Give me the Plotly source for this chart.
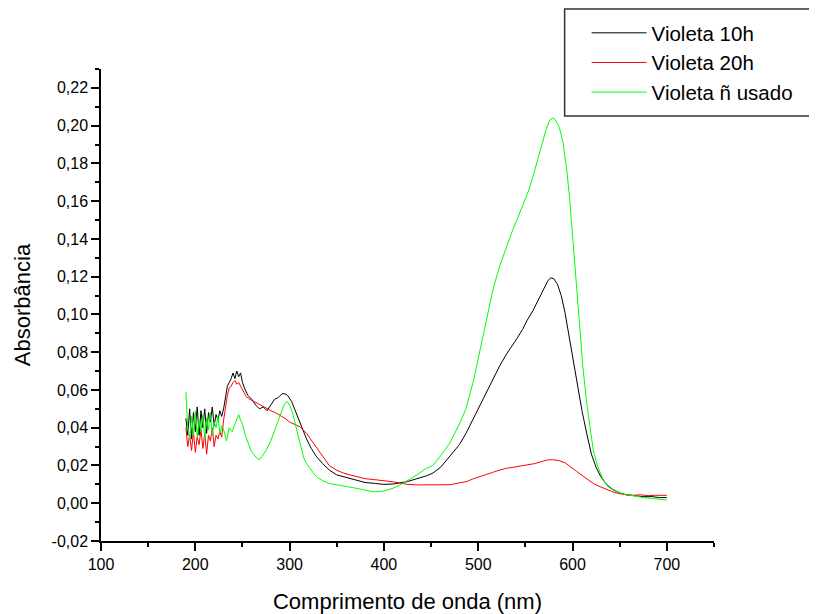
import plotly.graph_objects as go

# ---------------- data ----------------
noise_x = [190, 192, 194, 196, 198, 200, 202, 204, 206, 208, 210, 212, 214, 216, 218, 220, 222, 224, 226, 228]

v10_x = noise_x + [230, 232, 234, 236, 238, 240, 242, 244, 246, 248, 250, 253, 256, 260, 264, 268, 272, 276, 280, 284,
                   288, 292, 295, 298, 302, 306, 310, 314, 318, 323, 328, 335, 342, 350, 358, 365, 372, 380, 390, 400,
                   410, 417, 425, 435, 445, 452, 460, 470, 480, 487, 495, 505, 515, 523, 530, 537, 542, 547, 552, 558,
                   565, 570, 574, 577, 580, 584, 588, 592, 596, 600, 605, 610, 615, 620, 625, 630, 636, 642, 650, 657,
                   665, 675, 685, 692, 700]
v10_y = [0.045, 0.036, 0.050, 0.034, 0.048, 0.038, 0.051, 0.036, 0.049, 0.040, 0.050, 0.037, 0.048, 0.043, 0.051,
         0.041, 0.047, 0.044, 0.049, 0.046,
         0.050, 0.056, 0.062, 0.064, 0.066, 0.069, 0.066, 0.070, 0.067, 0.069, 0.064, 0.060, 0.057, 0.055, 0.052,
         0.050, 0.051, 0.049, 0.052, 0.055, 0.056, 0.058, 0.058, 0.057, 0.054, 0.049, 0.044, 0.039, 0.034, 0.029,
         0.025, 0.021, 0.0176, 0.015, 0.014, 0.013, 0.012, 0.011, 0.0105, 0.010, 0.0102, 0.0107, 0.0115, 0.013,
         0.0145, 0.016, 0.019, 0.025, 0.031, 0.037, 0.045, 0.055, 0.065, 0.073, 0.079, 0.084, 0.088, 0.092, 0.097,
         0.102, 0.109, 0.114, 0.118, 0.1194, 0.119, 0.116, 0.110, 0.101, 0.089, 0.077, 0.062, 0.049, 0.037, 0.026,
         0.019, 0.014, 0.010, 0.0075, 0.0055, 0.0044, 0.004, 0.0035, 0.0035, 0.003, 0.003]

v20_x = noise_x + [230, 232, 234, 236, 238, 240, 242, 244, 246, 248, 250, 254, 258, 262, 266, 270, 275, 280, 285, 290,
                   295, 300, 305, 311, 318, 325, 330, 335, 342, 350, 357, 364, 372, 380, 390, 400, 410, 417, 425, 435,
                   445, 455, 465, 470, 480, 488, 495, 505, 515, 523, 530, 540, 551, 560, 568, 574, 580, 586, 592, 598,
                   604, 610, 616, 622, 628, 635, 643, 650, 657, 665, 672, 680, 688, 695, 700]
v20_y = [0.040, 0.030, 0.036, 0.028, 0.038, 0.027, 0.035, 0.031, 0.039, 0.029, 0.037, 0.026, 0.036, 0.033, 0.040,
         0.030, 0.036, 0.034, 0.038, 0.035,
         0.044, 0.052, 0.057, 0.061, 0.062, 0.064, 0.065, 0.063, 0.064, 0.062, 0.060, 0.0565, 0.055, 0.054, 0.053,
         0.052, 0.0505, 0.049, 0.048, 0.0465, 0.045, 0.043, 0.042, 0.0405, 0.037, 0.032, 0.028, 0.025, 0.020,
         0.0175, 0.016, 0.015, 0.014, 0.013, 0.0125, 0.012, 0.0113, 0.0107, 0.010, 0.0097, 0.0097, 0.0097, 0.0097,
         0.0098, 0.0108, 0.0115, 0.013, 0.0148, 0.0163, 0.0176, 0.0185, 0.0193, 0.0203, 0.021, 0.0222, 0.023,
         0.023, 0.0225, 0.0215, 0.019, 0.017, 0.0148, 0.0125, 0.0105, 0.009, 0.0075, 0.006, 0.005, 0.0045, 0.0042,
         0.0045, 0.004, 0.0042, 0.004, 0.0042]

vn_x = noise_x + [230, 233, 236, 239, 242, 244, 246, 248, 250, 253, 256, 259, 262, 265, 268, 271, 275, 280, 285, 290,
                  294, 297, 300, 303, 306, 309, 312, 315, 318, 322, 326, 330, 335, 342, 350, 360, 370, 380, 390, 400,
                  410, 417, 425, 435, 445, 452, 460, 470, 480, 487, 495, 503, 510, 516, 523, 530, 536, 541, 547, 553,
                  558, 563, 568, 572, 576, 579, 582, 586, 590, 594, 597, 600, 604, 608, 611, 615, 618, 622, 627, 632,
                  637, 643, 650, 657, 665, 675, 685, 692, 700]
vn_y = [0.059, 0.040, 0.034, 0.046, 0.036, 0.049, 0.035, 0.044, 0.038, 0.047, 0.034, 0.045, 0.039, 0.048, 0.036,
        0.043, 0.040, 0.046, 0.037, 0.041,
        0.039, 0.033, 0.040, 0.038, 0.042, 0.045, 0.047, 0.044, 0.042, 0.036, 0.032, 0.028, 0.026, 0.024, 0.023,
        0.025, 0.028, 0.033, 0.040, 0.047, 0.052, 0.054, 0.052, 0.048, 0.042, 0.035, 0.029, 0.024, 0.021, 0.018,
        0.0155, 0.0135, 0.012, 0.0105, 0.0098, 0.0092, 0.008, 0.007, 0.006, 0.0065, 0.008, 0.0097, 0.012, 0.015,
        0.0185, 0.020, 0.025, 0.032, 0.042, 0.050, 0.065, 0.084, 0.100, 0.114, 0.126, 0.136, 0.144, 0.150, 0.157,
        0.165, 0.173, 0.182, 0.192, 0.198, 0.203, 0.204, 0.203, 0.199, 0.191, 0.176, 0.161, 0.142, 0.117, 0.091,
        0.072, 0.053, 0.041, 0.028, 0.019, 0.013, 0.009, 0.007, 0.0055, 0.0045, 0.004, 0.003, 0.0025, 0.002, 0.0017]

series_names = ["Violeta 10h", "Violeta 20h", "Violeta ñ usado"]
series_colors = ["#000000", "#FF0000", "#00FF00"]

x_tick_vals = [100, 200, 300, 400, 500, 600, 700]
x_tick_text = ["100", "200", "300", "400", "500", "600", "700"]
y_tick_vals = [-0.02, 0.00, 0.02, 0.04, 0.06, 0.08, 0.10, 0.12, 0.14, 0.16, 0.18, 0.20, 0.22]
y_tick_text = ["-0,02", "0,00", "0,02", "0,04", "0,06", "0,08", "0,10", "0,12", "0,14", "0,16", "0,18", "0,20", "0,22"]

x_title = "Comprimento de onda (nm)"
y_title = "Absorbância"

# ---------------- figure ----------------
# page body has an 8px margin, so the figure is sized 809x606 and offset accordingly
W, H = 809, 606
ML, MR, MT, MB = 93, 102.5, 61, 73
PW, PH = W - ML - MR, H - MT - MB


def px_to_paper_x(px):
    return (px - 8 - ML) / PW


def px_to_paper_y(py):
    return (H - MB - (py - 8)) / PH


FONT = "Arial, 'Liberation Sans', Helvetica, sans-serif"
fig = go.Figure()
for xs, ys, name, color in zip([v10_x, v20_x, vn_x], [v10_y, v20_y, vn_y], series_names, series_colors):
    fig.add_trace(go.Scatter(x=xs, y=ys, mode="lines", name=name,
                             line=dict(color=color, width=1)))

axis_common = dict(showline=True, linecolor="black", linewidth=1.5, mirror=False, showgrid=False,
                   zeroline=False, ticks="outside", ticklen=8, tickwidth=1.5, tickcolor="black",
                   tickfont=dict(family=FONT, size=16, color="black"))

fig.update_xaxes(range=[100, 750], tickmode="array", tickvals=x_tick_vals, ticktext=x_tick_text,
                 minor=dict(dtick=50, tick0=100, ticks="outside", ticklen=4, tickwidth=1.5, tickcolor="black"),
                 title=dict(text=x_title, font=dict(family=FONT, size=22, color="black"), standoff=22),
                 **axis_common)
fig.update_yaxes(range=[-0.02, 0.23], tickmode="array", tickvals=y_tick_vals, ticktext=y_tick_text,
                 minor=dict(dtick=0.01, tick0=-0.02, ticks="outside", ticklen=4, tickwidth=1.5, tickcolor="black"),
                 title=dict(text=y_title, font=dict(family=FONT, size=22, color="black"), standoff=15),
                 **axis_common)

# legend frame
fig.add_shape(type="rect", xref="paper", yref="paper",
              x0=px_to_paper_x(565), x1=px_to_paper_x(815),
              y0=px_to_paper_y(116), y1=px_to_paper_y(9),
              line=dict(color="#333333", width=1.5), fillcolor="rgba(0,0,0,0)", layer="above")

fig.update_layout(
    width=W, height=H,
    margin=dict(l=ML, r=MR, t=MT, b=MB, autoexpand=False),
    paper_bgcolor="white", plot_bgcolor="white",
    font=dict(family=FONT, size=16, color="black"),
    legend=dict(x=px_to_paper_x(587), y=px_to_paper_y(13), xanchor="left", yanchor="top",
                borderwidth=0, bgcolor="rgba(0,0,0,0)",
                font=dict(family=FONT, size=20.5, color="black"),
                itemwidth=55, tracegroupgap=0, itemclick=False),
    showlegend=True,
)

fig.write_html("out.html")
